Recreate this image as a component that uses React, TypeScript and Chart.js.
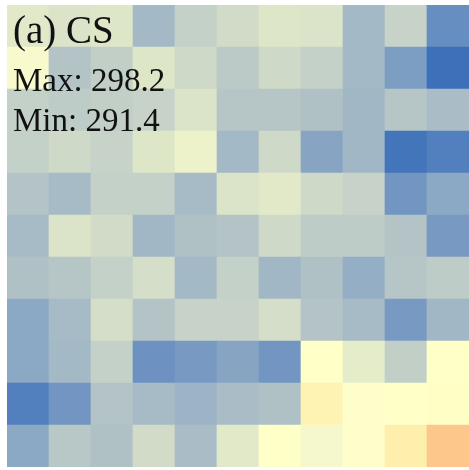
import React, { useEffect, useRef } from "react";
import { Chart, registerables } from "chart.js";

Chart.register(...registerables);

const columns = ["1", "2", "3", "4", "5", "6", "7", "8", "9", "10", "11"];
// rows listed from top (row 0) to bottom (row 10)
const row0 = [295.3, 295.1, 295.2, 293.3, 294.4, 294.8, 295.2, 295.1, 293.3, 294.5, 292.0];
const row1 = [295.9, 293.8, 294.3, 295.2, 294.7, 294.1, 294.7, 294.4, 293.3, 292.4, 291.4];
const row2 = [294.4, 294.2, 294.3, 294.5, 295.1, 293.9, 293.9, 293.7, 293.2, 293.9, 293.5];
const row3 = [294.4, 294.7, 294.5, 295.2, 295.6, 293.3, 294.7, 292.6, 293.2, 291.5, 291.7];
const row4 = [293.8, 293.4, 294.4, 294.4, 293.4, 295.1, 295.3, 294.7, 294.5, 292.2, 292.7];
const row5 = [293.4, 295.1, 294.8, 293.2, 293.7, 293.8, 294.7, 294.2, 294.2, 293.8, 292.3];
const row6 = [293.7, 293.9, 294.4, 294.9, 293.3, 294.4, 293.2, 293.7, 292.9, 293.9, 294.2];
const row7 = [292.7, 293.4, 294.9, 293.8, 294.5, 294.5, 294.9, 293.8, 293.4, 292.3, 293.2];
const row8 = [292.7, 293.3, 294.4, 292.1, 292.3, 292.6, 292.2, 296.4, 295.4, 294.3, 296.4];
const row9 = [291.7, 292.2, 293.8, 293.4, 293.1, 293.5, 293.7, 297.0, 296.3, 296.4, 296.5];
const row10 = [292.7, 294.0, 293.7, 294.8, 293.5, 295.3, 296.4, 295.8, 296.3, 297.2, 298.2];

const rows = [row0, row1, row2, row3, row4, row5, row6, row7, row8, row9, row10];

const title = "(a) CS";
const vmin = 291.4;
const vmax = 298.2;

const stops: [number, number[]][] = [
  [0.0, [60, 112, 185]],
  [0.08, [100, 140, 192]],
  [0.16, [130, 162, 195]],
  [0.26, [160, 182, 198]],
  [0.36, [180, 196, 198]],
  [0.46, [200, 212, 200]],
  [0.56, [222, 230, 200]],
  [0.66, [248, 250, 205]],
  [0.74, [255, 255, 200]],
  [0.86, [254, 238, 170]],
  [1.0, [253, 198, 138]],
];

function colorFor(v: number): string {
  let t = (v - vmin) / (vmax - vmin);
  t = Math.max(0, Math.min(1, t));
  for (let i = 1; i < stops.length; i++) {
    const [t1, c1] = stops[i];
    const [t0, c0] = stops[i - 1];
    if (t <= t1) {
      const f = (t - t0) / (t1 - t0);
      const c = c0.map((a, k) => Math.round(a + (c1[k] - a) * f));
      return `rgb(${c[0]},${c[1]},${c[2]})`;
    }
  }
  const c = stops[stops.length - 1][1];
  return `rgb(${c[0]},${c[1]},${c[2]})`;
}

export default function App() {
  const ref = useRef<HTMLCanvasElement | null>(null);

  useEffect(() => {
    if (!ref.current) return;
    const allVals = rows.flat();
    const maxV = Math.max(...allVals);
    const minV = Math.min(...allVals);
    // bottom row first so that it stacks at the bottom
    const datasets = rows
      .slice()
      .reverse()
      .map((r, i) => ({
        label: `row${10 - i}`,
        data: r.map(() => 1),
        backgroundColor: r.map((v) => colorFor(v)),
        borderWidth: 0,
        borderSkipped: false as const,
        barPercentage: 1,
        categoryPercentage: 1,
      }));

    const textPlugin = {
      id: "labels",
      afterDraw(chart: any) {
        const ctx = chart.ctx;
        ctx.save();
        ctx.fillStyle = "#111";
        ctx.textBaseline = "alphabetic";
        ctx.textAlign = "left";
        ctx.font = '39px "Liberation Serif", "Times New Roman", serif';
        ctx.fillText(title, 13, 43);
        ctx.font = '33px "Liberation Serif", "Times New Roman", serif';
        ctx.fillText(`Max: ${maxV.toFixed(1)}`, 13, 91);
        ctx.fillText(`Min: ${minV.toFixed(1)}`, 13, 131);
        ctx.restore();
      },
    };

    const chart = new Chart(ref.current, {
      type: "bar",
      data: { labels: columns, datasets },
      options: {
        animation: false,
        responsive: true,
        maintainAspectRatio: false,
        layout: { padding: { left: 7, top: 5, right: 0, bottom: 3 } },
        plugins: { legend: { display: false }, tooltip: { enabled: false } },
        scales: {
          x: { display: false, stacked: true, grid: { display: false } },
          y: { display: false, stacked: true, min: 0, max: 11, grid: { display: false } },
        },
      },
      plugins: [textPlugin],
    });
    return () => chart.destroy();
  }, []);

  return (
    <div style={{ position: "fixed", left: 0, top: 0, width: 469, height: 470, background: "#fff" }}>
      <canvas ref={ref} />
    </div>
  );
}
